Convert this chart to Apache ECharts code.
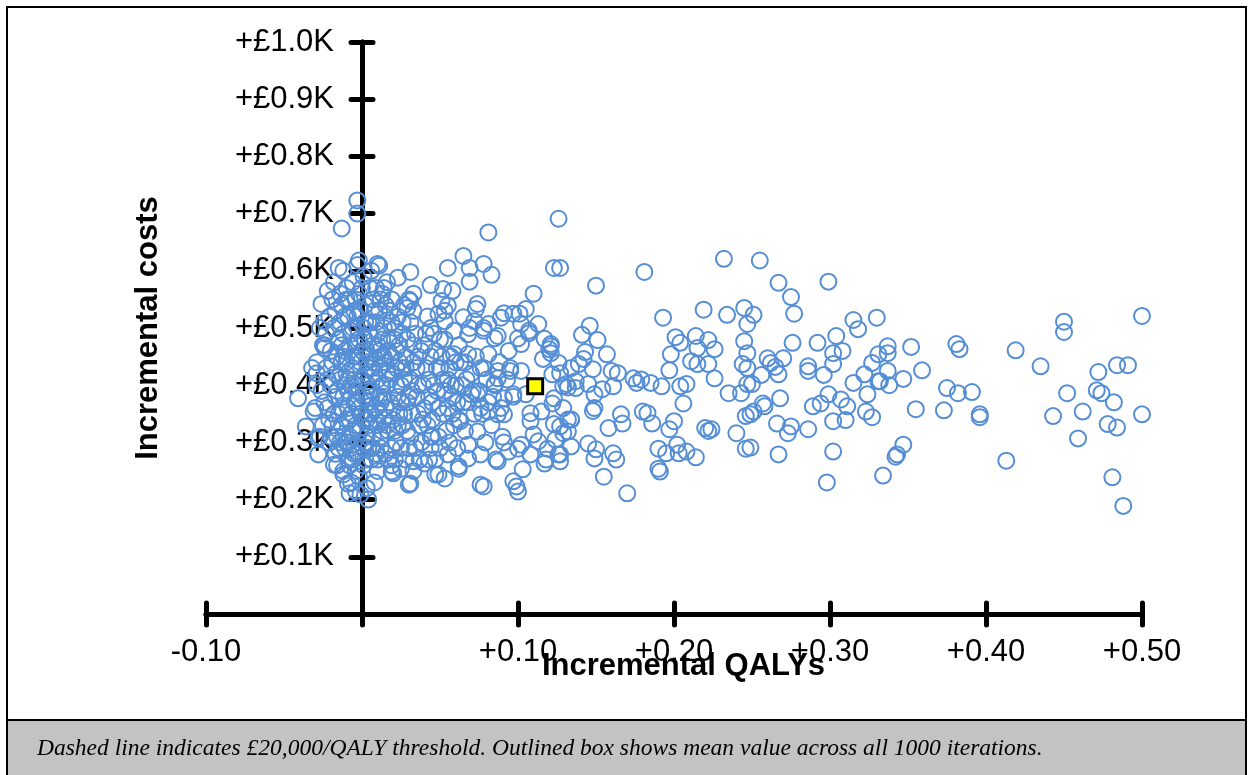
<!DOCTYPE html>
<html>
<head>
<meta charset="utf-8">
<script src="https://cdn.jsdelivr.net/npm/echarts@6/dist/echarts.min.js"></script>
<style>
html,body{margin:0;padding:0;background:#fff;}
#chart{width:1253px;height:775px;}
</style>
</head>
<body>
<div id="chart"></div>
<script>
// Incremental QALYs (x) and incremental costs in £K (y), one pair per iteration
const xTickValues = [-0.10, 0.00, 0.10, 0.20, 0.30, 0.40, 0.50];
const yTickValues = [0.0, 0.1, 0.2, 0.3, 0.4, 0.5, 0.6, 0.7, 0.8, 0.9, 1.0];

const leftPts = [
 [-0.041,0.377],[-0.036,0.328],[-0.031,0.354],[-0.028,0.279],[-0.013,0.674],[-0.003,0.723],
 [-0.003,0.700],[-0.002,0.618],[-0.015,0.605],[0.010,0.612],[0.004,0.200],[-0.001,0.209],
 [-0.008,0.211],[-0.009,0.228],[-0.024,0.465],[-0.026,0.542],[-0.022,0.565],[-0.029,0.400],
 [-0.032,0.430],[-0.027,0.310],[-0.024,0.512],[-0.025,0.470],[-0.029,0.421],[-0.028,0.307],
 [-0.018,0.261],[-0.012,0.244]
];

const corePts = [
 [-0.024,0.47],[-0.021,0.52],[-0.019,0.55],[-0.023,0.43],[-0.020,0.40],[-0.022,0.36],[-0.019,0.33],
 [-0.021,0.30],[-0.017,0.28],[-0.018,0.50],[-0.016,0.45],[-0.017,0.38],[-0.015,0.35],[-0.026,0.39],
 [-0.025,0.33],[-0.018,0.58],[-0.016,0.26],[-0.027,0.50],[-0.029,0.44],[-0.030,0.36],
 [-0.012,0.60],[-0.010,0.57],[-0.013,0.54],[-0.009,0.52],[-0.012,0.49],[-0.008,0.47],[-0.013,0.44],
 [-0.010,0.42],[-0.007,0.40],[-0.012,0.38],[-0.009,0.36],[-0.013,0.33],[-0.008,0.31],[-0.011,0.29],
 [-0.009,0.27],[-0.012,0.25],[-0.007,0.23],[-0.010,0.55],[-0.006,0.50],[-0.011,0.46],[-0.006,0.43],
 [-0.011,0.40],[-0.005,0.37],[-0.010,0.34],[-0.006,0.32],[-0.010,0.30],[-0.005,0.28],[-0.008,0.26],
 [-0.006,0.58],[-0.014,0.51],[-0.014,0.41],[-0.014,0.30],
 [-0.003,0.61],[0.001,0.59],[-0.002,0.56],[0.002,0.54],[-0.003,0.52],[0.001,0.50],[-0.002,0.48],
 [0.003,0.46],[-0.001,0.44],[0.002,0.42],[-0.003,0.40],[0.001,0.38],[-0.002,0.36],[0.003,0.34],
 [-0.001,0.32],[0.002,0.30],[-0.003,0.28],[0.001,0.26],[-0.002,0.24],[0.003,0.22],[-0.004,0.215],
 [0.000,0.57],[0.004,0.51],[-0.004,0.47],[0.004,0.43],[-0.004,0.39],[0.004,0.37],[-0.004,0.33],
 [0.004,0.29],[-0.004,0.25],[0.002,0.27],
 [0.006,0.60],[0.009,0.57],[0.007,0.55],[0.011,0.53],[0.006,0.51],[0.010,0.49],[0.007,0.47],
 [0.012,0.45],[0.006,0.43],[0.010,0.41],[0.007,0.39],[0.012,0.37],[0.006,0.35],[0.010,0.33],
 [0.007,0.31],[0.012,0.29],[0.006,0.27],[0.010,0.25],[0.008,0.23],[0.013,0.56],[0.013,0.48],
 [0.013,0.40],[0.013,0.32],[0.009,0.36],[0.008,0.44],
 [0.016,0.58],[0.019,0.55],[0.015,0.52],[0.021,0.50],[0.017,0.48],[0.022,0.46],[0.015,0.44],
 [0.020,0.42],[0.016,0.40],[0.023,0.38],[0.015,0.36],[0.020,0.34],[0.017,0.32],[0.022,0.30],
 [0.015,0.28],[0.019,0.26],[0.024,0.44],[0.024,0.35],[0.018,0.53],[0.021,0.27],
 [0.027,0.54],[0.031,0.51],[0.026,0.49],[0.033,0.47],[0.028,0.45],[0.035,0.43],[0.027,0.41],
 [0.032,0.39],[0.029,0.37],[0.036,0.35],[0.026,0.33],[0.031,0.31],[0.034,0.29],[0.028,0.27],
 [0.038,0.46],[0.039,0.40],[0.037,0.33],[0.030,0.55],[0.033,0.25],
 [0.042,0.52],[0.046,0.49],[0.044,0.45],[0.050,0.43],[0.043,0.41],[0.048,0.39],[0.055,0.41],
 [0.045,0.37],[0.052,0.35],[0.042,0.33],[0.049,0.31],[0.056,0.30],[0.044,0.29],[0.058,0.38],
 [0.057,0.45],[0.053,0.48],[0.047,0.27],[0.059,0.33],
 [0.062,0.47],[0.066,0.44],[0.064,0.40],[0.070,0.42],[0.068,0.37],[0.075,0.39],[0.072,0.35],
 [0.078,0.43],[0.081,0.37],[0.085,0.40],[0.066,0.32],[0.083,0.33],[0.089,0.36],[0.088,0.44],
 [0.069,0.50],[0.093,0.41],[0.061,0.29],[0.079,0.30],[0.091,0.30],[0.097,0.38],[0.094,0.46]
];

const coreFillPts = [
 [-0.020,0.46],[-0.017,0.42],[-0.021,0.34],[-0.014,0.56],[-0.015,0.48],[-0.016,0.31],[-0.012,0.45],
 [-0.008,0.34],[-0.009,0.39],[-0.006,0.45],[-0.005,0.53],[-0.007,0.29],[-0.003,0.50],[-0.001,0.35],
 [0.000,0.41],[0.003,0.39],[0.002,0.48],[0.003,0.31],[0.005,0.45],[0.005,0.33],[0.008,0.53],
 [0.009,0.28],[0.011,0.38],[0.011,0.46],[0.014,0.34],[0.014,0.50],[0.016,0.42],[0.018,0.37],
 [0.019,0.29],[0.019,0.45],[0.021,0.32],[0.022,0.40],[0.023,0.52],[0.025,0.29],[0.025,0.37],
 [0.026,0.43],[0.029,0.48],[0.029,0.32],[0.031,0.41],[0.032,0.35],[0.033,0.53],[0.035,0.38],
 [0.036,0.45],[0.038,0.30],[0.040,0.36],[0.041,0.43],[0.041,0.49],[0.043,0.27],[0.045,0.34],
 [0.046,0.40],[0.047,0.46],[0.049,0.36],[0.050,0.29],[0.051,0.45],[0.053,0.39],[0.054,0.32],
 [0.056,0.43],[0.058,0.35],[0.060,0.40],[0.062,0.34],[0.063,0.44],[0.065,0.37],[0.067,0.41],
 [0.071,0.39],[0.073,0.45],[0.077,0.35],[0.080,0.41],[0.084,0.38]
];

const coreDensePts = [
 [-0.023,0.49],[-0.022,0.41],[-0.024,0.37],[-0.020,0.31],[-0.019,0.44],[-0.018,0.35],[-0.017,0.53],
 [-0.016,0.39],[-0.015,0.29],[-0.013,0.47],[-0.013,0.36],[-0.012,0.31],[-0.011,0.52],[-0.010,0.44],
 [-0.009,0.41],[-0.009,0.30],[-0.008,0.55],[-0.007,0.49],[-0.007,0.35],[-0.006,0.27],[-0.005,0.41],
 [-0.004,0.55],[-0.004,0.45],[-0.003,0.37],[-0.002,0.30],[-0.001,0.53],[0.000,0.46],[0.001,0.34],
 [0.001,0.29],[0.002,0.51],[0.003,0.44],[0.004,0.40],[0.004,0.35],[0.005,0.57],[0.005,0.49],
 [0.006,0.38],[0.007,0.29],[0.008,0.42],[0.009,0.51],[0.009,0.34],[0.010,0.47],[0.010,0.27],
 [0.011,0.43],[0.011,0.35],[0.012,0.55],[0.012,0.31],[0.014,0.45],[0.014,0.38],[0.015,0.54],
 [0.016,0.33],[0.017,0.46],[0.017,0.27],[0.018,0.41],[0.019,0.51],[0.020,0.36],[0.021,0.48],
 [0.022,0.43],[0.023,0.33],[0.024,0.47],[0.025,0.40],[0.026,0.51],[0.027,0.35],[0.028,0.43],
 [0.030,0.38],[0.030,0.29],[0.033,0.44],[0.034,0.49],[0.036,0.40],[0.037,0.27],[0.039,0.34],
 [0.040,0.47],[0.043,0.38],[0.045,0.31],[0.048,0.43],[0.050,0.48],[0.052,0.41],[0.055,0.36],
 [0.057,0.40],[0.060,0.44],[0.061,0.37]
];

const nearPts = [
 [0.081,0.667],[0.126,0.691],[0.123,0.605],[0.011,0.609],[0.031,0.598],[0.023,0.588],[0.014,0.570],
 [0.055,0.605],[0.065,0.626],[0.069,0.605],[0.078,0.612],[0.083,0.593],[0.069,0.581],[0.044,0.575],
 [0.052,0.568],[0.058,0.565],[0.033,0.560],[0.031,0.547],[0.029,0.535],[0.051,0.547],[0.055,0.539],
 [0.074,0.542],[0.073,0.533],[0.110,0.560],[0.065,0.519],[0.091,0.526],[0.097,0.525],[0.101,0.525],
 [0.105,0.533],[0.081,0.507],[0.078,0.495],[0.087,0.486],[0.100,0.482],[0.102,0.472],[0.107,0.495],
 [0.113,0.507],[0.121,0.472],[0.120,0.463],[0.053,0.530],
 [0.078,0.223],[0.099,0.223],[0.100,0.214],[0.030,0.226],[0.103,0.253],[0.053,0.237],[0.047,0.244],
 [0.020,0.246],[0.062,0.258],[0.086,0.270],[0.117,0.263],[0.118,0.270],[0.126,0.279],[0.108,0.279],
 [0.129,0.398],[0.122,0.368],[0.108,0.351],[0.132,0.340],[0.132,0.319],[0.124,0.305],[0.113,0.302],
 [0.100,0.289],[0.091,0.349],[0.090,0.310],[0.076,0.279],[0.068,0.296],[0.055,0.279],[0.063,0.337],
 [0.074,0.319],[0.095,0.425],[0.122,0.419],[0.087,0.412],[0.105,0.384],[0.070,0.384],[0.076,0.360],
 [0.044,0.310],[0.033,0.267],[0.040,0.263],
 [0.078,0.500],[0.085,0.482],[0.089,0.518],[0.102,0.507],[0.107,0.491],[0.117,0.481],[0.121,0.468],
 [0.126,0.439],[0.134,0.430],[0.137,0.407],[0.131,0.402],[0.123,0.377],[0.129,0.360],[0.134,0.340],
 [0.123,0.332],[0.115,0.354],[0.108,0.337],[0.110,0.314],[0.119,0.289],[0.127,0.267],[0.102,0.296],
 [0.094,0.284],[0.087,0.267],[0.097,0.232],[0.076,0.226],[0.068,0.272],[0.062,0.254],[0.049,0.244],
 [0.031,0.228],[0.025,0.254],[0.019,0.249],[0.081,0.354],[0.087,0.349],[0.074,0.384],[0.085,0.402],
 [0.091,0.377],[0.097,0.384],[0.095,0.430],[0.102,0.425],[0.087,0.425],[0.081,0.454],[0.076,0.430],
 [0.068,0.454],[0.059,0.454],[0.068,0.489],[0.059,0.495],[0.072,0.512],[0.053,0.512],[0.044,0.500],
 [0.049,0.525]
];

const midPts = [
 [0.127,0.605],[0.150,0.574],[0.181,0.598],[0.232,0.621],[0.193,0.518],[0.219,0.532],[0.234,0.523],
 [0.245,0.535],[0.247,0.507],[0.146,0.504],[0.141,0.488],[0.151,0.479],[0.143,0.458],[0.157,0.454],
 [0.139,0.437],[0.142,0.446],[0.148,0.428],[0.160,0.425],[0.164,0.421],[0.127,0.421],[0.132,0.396],
 [0.137,0.395],[0.145,0.402],[0.149,0.384],[0.154,0.393],[0.161,0.398],[0.174,0.412],[0.176,0.404],
 [0.179,0.410],[0.185,0.404],[0.201,0.484],[0.204,0.474],[0.198,0.454],[0.214,0.486],[0.215,0.465],
 [0.222,0.479],[0.226,0.463],[0.197,0.426],[0.211,0.442],[0.215,0.437],[0.222,0.437],[0.226,0.412],
 [0.208,0.402],[0.245,0.477],[0.247,0.456],[0.244,0.437],[0.247,0.430],[0.235,0.386],[0.243,0.386],
 [0.247,0.402],[0.121,0.456],[0.116,0.446],[0.204,0.398],[0.192,0.398],
 [0.149,0.360],[0.148,0.355],[0.134,0.340],[0.127,0.328],[0.129,0.316],[0.127,0.279],[0.134,0.293],
 [0.145,0.298],[0.150,0.288],[0.149,0.272],[0.161,0.281],[0.163,0.270],[0.158,0.325],[0.166,0.349],
 [0.167,0.333],[0.155,0.240],[0.170,0.211],[0.180,0.354],[0.183,0.351],[0.186,0.333],[0.190,0.289],
 [0.195,0.281],[0.197,0.323],[0.200,0.337],[0.202,0.296],[0.203,0.281],[0.208,0.284],[0.214,0.274],
 [0.190,0.254],[0.191,0.249],[0.206,0.368],[0.220,0.325],[0.224,0.323],[0.222,0.320],[0.240,0.316],
 [0.246,0.289],[0.246,0.346],[0.251,0.354]
];

const tailPts = [
 [0.337,0.468],[0.337,0.456],[0.352,0.467],[0.381,0.472],[0.383,0.463],[0.419,0.461],[0.435,0.433],
 [0.450,0.511],[0.450,0.493],[0.500,0.521],[0.472,0.423],[0.484,0.435],[0.491,0.435],[0.337,0.425],
 [0.347,0.411],[0.359,0.426],[0.338,0.400],[0.332,0.407],[0.375,0.395],[0.382,0.386],[0.391,0.388],
 [0.452,0.386],[0.471,0.391],[0.474,0.386],[0.355,0.358],[0.373,0.356],[0.396,0.349],[0.396,0.344],
 [0.443,0.346],[0.462,0.354],[0.482,0.370],[0.500,0.349],[0.478,0.332],[0.484,0.326],[0.459,0.307],
 [0.347,0.296],[0.342,0.275],[0.343,0.279],[0.334,0.242],[0.413,0.268],[0.481,0.239],[0.488,0.189],
 [0.255,0.618],[0.267,0.579],[0.299,0.581],[0.275,0.554],[0.277,0.525],[0.251,0.523],[0.315,0.514],
 [0.318,0.498],[0.330,0.518],[0.276,0.474],[0.292,0.474],[0.304,0.486],[0.302,0.456],[0.308,0.460],
 [0.331,0.454],[0.260,0.447],[0.262,0.439],[0.265,0.432],[0.270,0.447],[0.256,0.418],[0.267,0.419],
 [0.286,0.433],[0.286,0.425],[0.296,0.418],[0.302,0.437],[0.327,0.439],[0.322,0.419],[0.315,0.404],
 [0.331,0.407],[0.250,0.402],[0.268,0.377],[0.257,0.368],[0.258,0.363],[0.249,0.349],[0.289,0.363],
 [0.294,0.368],[0.299,0.384],[0.307,0.375],[0.311,0.363],[0.302,0.337],[0.310,0.339],[0.323,0.354],
 [0.327,0.344],[0.324,0.384],[0.266,0.333],[0.273,0.316],[0.275,0.328],[0.286,0.323],[0.249,0.291],
 [0.267,0.279],[0.302,0.284],[0.298,0.230]
];

const meanPoint = [0.111, 0.398];

const caption = 'Dashed line indicates £20,000/QALY threshold. Outlined box shows mean value across all 1000 iterations.';

const allPts = leftPts.concat(corePts, coreFillPts, coreDensePts, nearPts, midPts, tailPts);

const chart = echarts.init(document.getElementById('chart'), null, {renderer: 'canvas'});

const axisBlack = {color: '#000', width: 5, cap: 'round'};
const font = '"Liberation Sans", Arial, sans-serif';

const GRID_LEFT = 206, GRID_RIGHT = 111, GRID_TOP = 42, GRID_BOTTOM = 161;
const plotW = 1253 - GRID_LEFT - GRID_RIGHT;
const xMin = xTickValues[0], xMax = xTickValues[xTickValues.length - 1];
// y axis sits at x = 0: shift it from the grid's left edge
const yAxisShift = -Math.round((0 - xMin) / (xMax - xMin) * plotW);

function xFmt(v) {
  if (Math.abs(v) < 1e-9) return '';
  return (v > 0 ? '+' : '') + v.toFixed(2);
}
function yFmt(v) {
  if (Math.abs(v) < 1e-9) return '';
  return '+£' + v.toFixed(1) + 'K';
}

const option = {
  animation: false,
  backgroundColor: '#ffffff',
  grid: {left: GRID_LEFT, right: GRID_RIGHT, top: GRID_TOP, bottom: GRID_BOTTOM,
         containLabel: false, outerBoundsMode: 'none'},
  xAxis: [
    {
      type: 'value', min: xMin, max: xMax, interval: 0.1,
      name: 'Incremental QALYs', nameLocation: 'middle', nameGap: 37, nameMoveOverlap: false,
      nameTextStyle: {fontFamily: font, fontSize: 31, fontWeight: 'bold', color: '#000', padding: [0, 0, 0, 19]},
      axisLine: {onZero: false, lineStyle: axisBlack},
      axisTick: {show: true, length: 11, lineStyle: axisBlack},
      axisLabel: {formatter: xFmt, fontFamily: font, fontSize: 31, color: '#000', margin: 23},
      splitLine: {show: false}
    },
    {
      type: 'value', position: 'bottom', min: xMin, max: xMax, interval: 0.1,
      axisLine: {show: true, onZero: false, lineStyle: axisBlack},
      axisTick: {show: true, inside: true, length: 11, lineStyle: axisBlack},
      axisLabel: {show: false}, splitLine: {show: false}
    }
  ],
  yAxis: [
    {
      type: 'value', position: 'left', offset: yAxisShift,
      min: yTickValues[0], max: yTickValues[yTickValues.length - 1], interval: 0.1,
      name: 'Incremental costs', nameLocation: 'middle', nameGap: 198, nameRotate: 90, nameMoveOverlap: false,
      nameTextStyle: {fontFamily: font, fontSize: 31, fontWeight: 'bold', color: '#000'},
      axisLine: {onZero: false, lineStyle: axisBlack},
      axisTick: {show: true, length: 11, lineStyle: axisBlack},
      axisLabel: {formatter: yFmt, fontFamily: font, fontSize: 31, color: '#000', margin: 28},
      splitLine: {show: false}
    },
    {
      type: 'value', position: 'left', offset: yAxisShift,
      min: yTickValues[0], max: yTickValues[yTickValues.length - 1], interval: 0.1,
      axisLine: {show: true, onZero: false, lineStyle: axisBlack},
      axisTick: {show: true, inside: true, length: 11, lineStyle: axisBlack},
      axisLabel: {show: false}, splitLine: {show: false}
    }
  ],
  graphic: [
    {type: 'rect', z: -10, silent: true, shape: {x: 7, y: 7, width: 1239, height: 800},
     style: {fill: 'none', stroke: '#000', lineWidth: 2}},
    {type: 'rect', z: 10, silent: true, shape: {x: 7, y: 720, width: 1239, height: 80},
     style: {fill: '#c3c3c3', stroke: '#000', lineWidth: 2}},
    {type: 'text', z: 11, silent: true, left: 37, top: 737,
     style: {text: caption, font: 'italic 23.5px "Liberation Serif", "Times New Roman", serif', fill: '#000'}}
  ],
  series: [
    {
      type: 'scatter', name: 'Iterations', xAxisIndex: 0, yAxisIndex: 0,
      data: allPts, symbol: 'circle', symbolSize: 16,
      itemStyle: {color: 'rgba(0,0,0,0)', borderColor: '#558ED5', borderWidth: 2, opacity: 1},
      emphasis: {disabled: true}, z: 2
    },
    {
      type: 'scatter', name: 'Mean', xAxisIndex: 0, yAxisIndex: 0,
      data: [meanPoint], symbol: 'rect', symbolSize: 15,
      itemStyle: {color: '#ffff00', borderColor: '#000', borderWidth: 3, opacity: 1},
      emphasis: {disabled: true}, z: 5
    }
  ]
};
chart.setOption(option);
</script>
</body>
</html>
